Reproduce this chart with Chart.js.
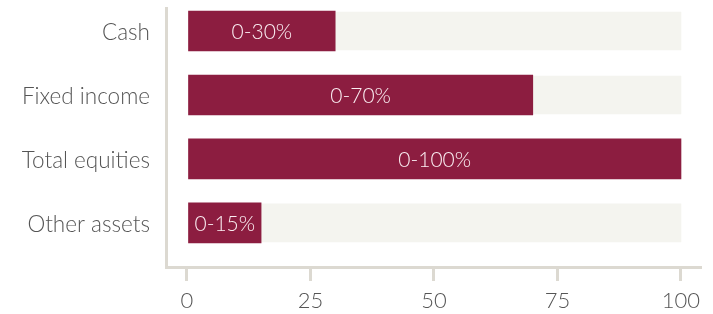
<!DOCTYPE html>
<html>
<head>
<meta charset="utf-8">
<style>
  html, body { margin: 0; padding: 0; background: #fff; }
  #wrap { position: relative; width: 713px; height: 314px; }
</style>
<script src="https://cdn.jsdelivr.net/npm/chart.js@4.4.1/dist/chart.umd.min.js"></script>
</head>
<body>
<div id="wrap"><canvas id="chart" width="713" height="314"></canvas></div>
<script>
// asset classes and the upper end of each allowed range (%)
const categories = ['Cash', 'Fixed income', 'Total equities', 'Other assets'];
const rangeMax = [30, 70, 100, 15];
const fullScale = [100, 100, 100, 100];
const xTicks = [0, 25, 50, 75, 100];

const maroon = '#8c1d40';
const track = '#f4f4ef';
const axisGrey = '#dcd9d1';
const textGrey = '#555555';
const fontFamily = 'Lato, "Open Sans", sans-serif';

// range text inside each bar
const barLabels = {
  id: 'barLabels',
  afterDatasetsDraw(chart) {
    const { ctx } = chart;
    const meta = chart.getDatasetMeta(0);
    ctx.save();
    ctx.font = `300 21px ${fontFamily}`;
    ctx.fillStyle = '#fbeef2';
    ctx.textAlign = 'center';
    ctx.textBaseline = 'middle';
    meta.data.forEach((bar, i) => {
      ctx.fillText(`0-${rangeMax[i]}%`, (bar.x + bar.base) / 2, bar.y + 1);
    });
    ctx.restore();
  },
};

new Chart(document.getElementById('chart'), {
  type: 'bar',
  data: {
    datasets: [
      {
        data: categories.map((c, i) => ({ x: rangeMax[i], y: i })),
        backgroundColor: maroon,
        barThickness: 40,
      },
      {
        data: categories.map((c, i) => ({ x: fullScale[i], y: i })),
        backgroundColor: track,
        barThickness: 38,
      },
    ],
  },
  options: {
    indexAxis: 'y',
    responsive: false,
    animation: false,
    layout: { padding: { top: 8, right: 13, left: 0, bottom: 0 } },
    plugins: { legend: { display: false }, tooltip: { enabled: false } },
    datasets: { bar: { grouped: false } },
    scales: {
      x: {
        type: 'linear',
        min: -4.25,
        max: 103.85,
        afterBuildTicks: (scale) => { scale.ticks = xTicks.map((v) => ({ value: v })); },
        afterFit: (scale) => {
          scale.height = 47;
          scale.paddingLeft = 0;
          scale.paddingRight = 0;
        },
        grid: { drawOnChartArea: false, color: axisGrey, lineWidth: 3, tickLength: 14 },
        border: { color: axisGrey, width: 3 },
        ticks: { color: textGrey, padding: 7, font: { family: fontFamily, size: 22, weight: 300 } },
      },
      y: {
        type: 'linear',
        reverse: true,
        offset: false,
        min: -0.36,
        max: 3.69,
        afterBuildTicks: (scale) => { scale.ticks = categories.map((c, i) => ({ value: i })); },
        afterFit: (scale) => {
          scale.width = 166;
          scale.paddingTop = 0;
          scale.paddingBottom = 0;
        },
        grid: { display: false },
        border: { color: axisGrey, width: 3 },
        ticks: {
          color: textGrey,
          padding: 8,
          labelOffset: 2,
          font: { family: fontFamily, size: 22.5, weight: 300 },
          callback: (v) => categories[v],
        },
      },
    },
  },
  plugins: [barLabels],
});
</script>
</body>
</html>
